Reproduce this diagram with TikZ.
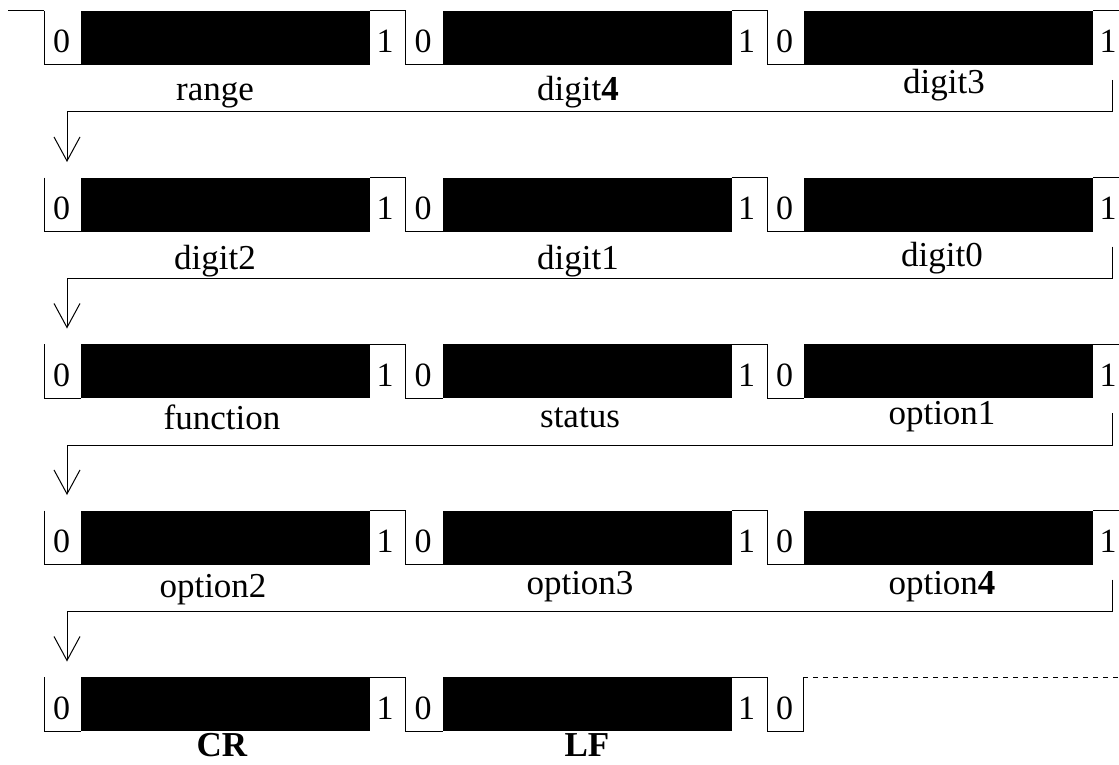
\documentclass[tikz,border=0pt]{standalone}
\usepackage{fontspec}
\setmainfont{Liberation Serif}
\usetikzlibrary{arrows.meta}
\tikzset{
  wire/.style={line width=1pt},
  bitnum/.style={font=\fontsize{34}{40}\selectfont, anchor=base, inner sep=0pt},
  fieldname/.style={font=\fontsize{35}{40}\selectfont, anchor=base, inner sep=0pt},
  nextline/.style={wire, -{Straight Barb[length=24pt,width=26pt,line width=1pt]}},
}

\begin{document}
\begin{tikzpicture}[x=1pt,y=-1pt]
  \useasboundingbox (0,0) rectangle (1119,765);
  % idle line before the first character
  \coordinate (idle) at (8,11);
  \draw[wire] (idle) -- (44,11);
  % four full rows of three characters
  \foreach \r/\T in {1/11,2/177.5,3/344,4/510.5} {
    \foreach \c/\X in {1/44,2/405.5,3/767} {
      \coordinate (s\r\c) at (\X,\T);
      \draw[wire] (s\r\c) -- ++(0,54) -- ++(37,0);
      \fill (\X+37,\T) rectangle (\X+326,\T+54);
      \draw[wire] (\X+326,\T) -- ({min(\X+362,1119)},\T);
      \node[bitnum] (zero\r\c) at (\X+17.5,\T+42) {0};
      \node[bitnum] (one\r\c) at (\X+341,\T+42) {1};
    }
    % wrap round to the next row
    \coordinate (turn\r) at (1112,\T+69);
    \coordinate (drop\r) at (67,\T+151);
    \draw[nextline] (turn\r) -- ++(0,32) -| (drop\r);
  }
  % last row: CR, LF, then the line stays idle
  \foreach \c/\X in {1/44,2/405.5} {
    \coordinate (s5\c) at (\X,677);
    \draw[wire] (s5\c) -- ++(0,54) -- ++(37,0);
    \fill (\X+37,677) rectangle (\X+326,731);
    \draw[wire] (\X+326,677) -- (\X+362,677);
    \node[bitnum] (zero5\c) at (\X+17.5,719) {0};
    \node[bitnum] (one5\c) at (\X+341,719) {1};
  }
  \coordinate (s53) at (767,677);
  \draw[wire] (s53) -- ++(0,54) -- ++(36,0) -- ++(0,-54) coordinate (stop);
  \node[bitnum] (zero53) at (784.5,719) {0};
  \coordinate (edge) at (1119,677);
  \draw[wire, dash pattern=on 5pt off 5pt] (stop) -- (edge);
  % field names
  \node[fieldname] (range) at (215,101) {range};
  \node[fieldname] (digitD) at (578,101) {digit\textbf{4}};
  \node[fieldname] (digitC) at (944,94) {digit3};
  \node[fieldname] (digitB) at (215,269) {digit2};
  \node[fieldname] (digitA) at (578,269) {digit1};
  \node[fieldname] (digitO) at (942,266) {digit0};
  \node[fieldname] (function) at (222,429) {function};
  \node[fieldname] (status) at (580,427) {status};
  \node[fieldname] (optA) at (942,424) {option1};
  \node[fieldname] (optB) at (213,597) {option2};
  \node[fieldname] (optC) at (580,594) {option3};
  \node[fieldname] (optD) at (942,594) {option\textbf{4}};
  \node[fieldname] (cr) at (222,756) {\textbf{CR}};
  \node[fieldname] (lf) at (587,756) {\textbf{LF}};
\end{tikzpicture}
\end{document}
